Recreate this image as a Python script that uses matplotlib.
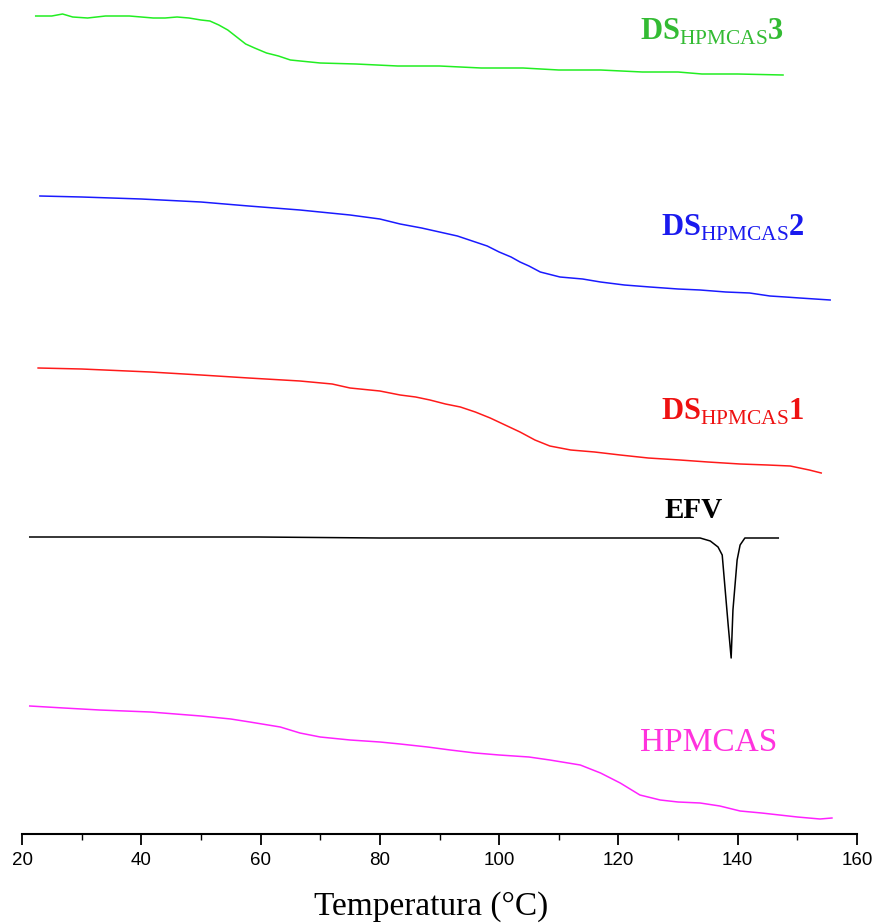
import matplotlib
matplotlib.use('Agg')
import matplotlib.pyplot as plt
from matplotlib.ticker import MultipleLocator
from matplotlib import font_manager

plt.rcParams['font.family'] = ['Liberation Serif', 'DejaVu Serif']
plt.rcParams['mathtext.fontset'] = 'custom'
plt.rcParams['mathtext.rm'] = 'Liberation Serif'

installed = {f.name for f in font_manager.fontManager.ttflist}
tick_font = 'Liberation Sans Narrow' if 'Liberation Sans Narrow' in installed else 'Liberation Sans'

# DSC curves (y = stacked heat flow offset, a.u., downwards)
t_ds3 = [22.3, 25, 26.8, 28.5, 31, 34, 38, 42, 44, 46, 48, 50, 51.5, 53, 54.5, 56, 57.5, 59, 61, 63, 65,
         70, 76, 83, 90, 97, 104, 110, 117, 124, 130, 134, 140, 147.6]
y_ds3 = [16, 16, 14, 17, 18, 16, 16, 18, 18, 17, 18, 20, 21, 25, 30, 37, 44, 48, 53, 56, 60,
         63, 64, 66, 66, 68, 68, 70, 70, 72, 72, 74, 74, 75]

t_ds2 = [23, 30, 40, 50, 58, 66.6, 75, 80, 83.4, 87, 90, 93, 95, 98, 100, 102, 103.5, 105, 106.9, 110.2,
         114, 117, 121, 125.3, 130, 133.7, 138, 142, 145.4, 148, 150.4, 155.5]
y_ds2 = [196, 197, 199, 202, 206, 210, 215, 219, 224, 228, 232, 236, 240, 246, 252, 257, 262, 266, 272, 277,
         279, 282, 285, 287, 289, 290, 292, 293, 296, 297, 298, 300]

t_ds1 = [22.7, 30, 41.5, 50, 58, 66.6, 72, 75, 80, 83.4, 86, 88.4, 91, 93.5, 96, 98.5, 101, 103.5, 106, 108.5,
         112, 116, 120.3, 125, 130.3, 135, 140.4, 145, 148.8, 152, 154]
y_ds1 = [368, 369, 372, 375, 378, 381, 384, 388, 391, 395, 397, 400, 404, 407, 412, 418, 425, 432, 440, 446,
         450, 452, 455, 458, 460, 462, 464, 465, 466, 470, 473]

t_efv = [21.3, 40, 59.6, 80, 100, 120, 133.7, 135.4, 136.7, 137.4, 137.9, 138.4, 138.9, 139.2, 139.9, 140.4,
         141.2, 144, 146.8]
y_efv = [537, 537, 537, 538, 538, 538, 538, 541, 547, 555, 590, 625, 658, 610, 560, 545,
         538, 538, 538]

t_hpm = [21.3, 27, 33, 41.5, 50, 55, 58.2, 63.3, 66.6, 70, 75, 80, 83.4, 88, 91.8, 96, 100, 105, 108.5,
         113.6, 117, 120.3, 123.6, 127, 130, 133.7, 137, 140.4, 144, 147, 150, 153.8, 155.8]
y_hpm = [706, 708, 710, 712, 716, 719, 722, 727, 733, 737, 740, 742, 744, 747, 750, 753, 755, 757, 760,
         765, 773, 783, 795, 800, 802, 803, 806, 811, 813, 815, 817, 819, 818]

fig = plt.figure(figsize=(8.76, 9.23), dpi=100)
ax = fig.add_axes([22 / 876, 89 / 923, 835 / 876, 834 / 923])

ax.plot(t_ds3, y_ds3, color='#22ee22', lw=1.1)
ax.plot(t_ds2, y_ds2, color='#1a1aff', lw=1.1)
ax.plot(t_ds1, y_ds1, color='#ff1a1a', lw=1.1)
ax.plot(t_efv, y_efv, color='black', lw=1.1)
ax.plot(t_hpm, y_hpm, color='#ff22ff', lw=1.1)

lab_kw = dict(fontsize=22, fontweight='bold', ha='center', va='center')
ax.text(135.7, 32, r'DS$_{\mathrm{HPMCAS}}$3', color='#33bb33', **lab_kw)
ax.text(139.2, 228, r'DS$_{\mathrm{HPMCAS}}$2', color='#1a1aee', **lab_kw)
ax.text(139.2, 412, r'DS$_{\mathrm{HPMCAS}}$1', color='#ee1111', **lab_kw)
ax.text(132.7, 510, 'EFV', color='black', fontsize=21, fontweight='bold', ha='center', va='center')
ax.text(135.2, 743, 'HPMCAS', color='#ff33dd', fontsize=24, ha='center', va='center')

ax.set_xlim(20, 160)
ax.set_ylim(834, 0)
for s in ['left', 'right', 'top']:
    ax.spines[s].set_visible(False)
ax.spines['bottom'].set_linewidth(1.5)
ax.set_yticks([])
ax.xaxis.set_major_locator(MultipleLocator(20))
ax.xaxis.set_minor_locator(MultipleLocator(10))
ax.tick_params(axis='x', which='major', length=8, width=1.3, direction='out', pad=5)
ax.tick_params(axis='x', which='minor', length=4.5, width=1.0, direction='out')
for lab in ax.get_xticklabels():
    lab.set_family([tick_font, 'DejaVu Sans'])
    lab.set_fontsize(13.5)
ax.set_xlabel('Temperatura (°C)', fontsize=24)
ax.xaxis.set_label_coords(0.49, -0.068)

fig.savefig('out.png', dpi=100)
